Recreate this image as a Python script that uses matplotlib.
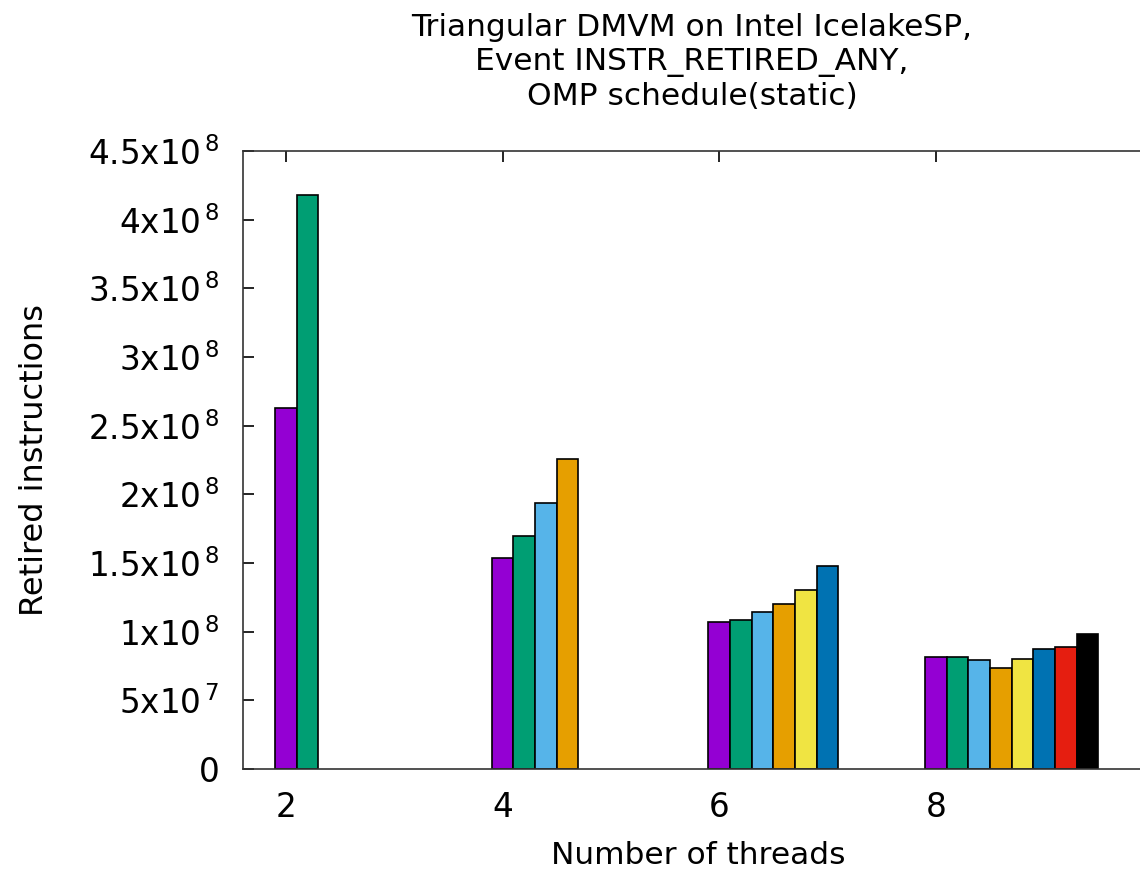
import numpy as np
import matplotlib.pyplot as plt

# Retired instructions per thread (one bar per thread)
threads = [2, 4, 6, 8]
instr_2 = [2.63e8, 4.18e8]
instr_4 = [1.533e8, 1.70e8, 1.94e8, 2.257e8]
instr_6 = [1.074e8, 1.088e8, 1.142e8, 1.203e8, 1.305e8, 1.48e8]
instr_8 = [8.19e7, 8.19e7, 7.92e7, 7.34e7, 8.02e7, 8.72e7, 8.89e7, 9.86e7]
all_instr = [instr_2, instr_4, instr_6, instr_8]

ytick_vals = [0, 5e7, 1e8, 1.5e8, 2e8, 2.5e8, 3e8, 3.5e8, 4e8, 4.5e8]
ytick_labels = ["0", r"5x10$^{\,7}$", r"1x10$^{\,8}$", r"1.5x10$^{\,8}$", r"2x10$^{\,8}$",
                r"2.5x10$^{\,8}$", r"3x10$^{\,8}$", r"3.5x10$^{\,8}$", r"4x10$^{\,8}$",
                r"4.5x10$^{\,8}$"]

# gnuplot default palette
colors = ["#9400d3", "#009e73", "#56b4e9", "#e69f00", "#f0e442", "#0072b2", "#e51e10", "#000000"]

fig = plt.figure(figsize=(11.4, 8.71), dpi=100)
ax = fig.add_axes([243 / 1140, 102 / 871, 897 / 1140, 618 / 871])

bw = 0.2
for t, vals in zip(threads, all_instr):
    for i, v in enumerate(vals):
        ax.bar(t + i * bw, v, width=bw, color=colors[i], edgecolor="black", linewidth=1.2, zorder=2)

ax.set_xlim(1.603, 9.886)
ax.set_ylim(0, 4.5e8)
ax.set_xticks(threads)
ax.set_xticklabels([str(t) for t in threads])
ax.set_yticks(ytick_vals)
ax.set_yticklabels(ytick_labels)

ax.tick_params(axis="both", direction="in", length=8, width=1.2, labelsize=23.5)
ax.tick_params(axis="x", top=True, pad=16)
ax.tick_params(axis="y", pad=17)
ax.spines["right"].set_visible(False)
for s in ["left", "top", "bottom"]:
    ax.spines[s].set_linewidth(1.2)
    ax.spines[s].set_color("#333333")

ax.set_xlabel("Number of threads", fontsize=22.5, va="center")
ax.set_ylabel("Retired instructions", fontsize=23, va="center")
ax.xaxis.set_label_coords((698 - 243) / 897, (769 - 855) / 618)
ax.yaxis.set_label_coords((35 - 243) / 897, 0.5)

fig.text(692 / 1140, 1 - 62 / 871,
         "Triangular DMVM on Intel IcelakeSP,\nEvent INSTR_RETIRED_ANY,\nOMP schedule(static)",
         ha="center", va="center", fontsize=22.5, linespacing=1.2)

plt.savefig("out.png", dpi=100)
